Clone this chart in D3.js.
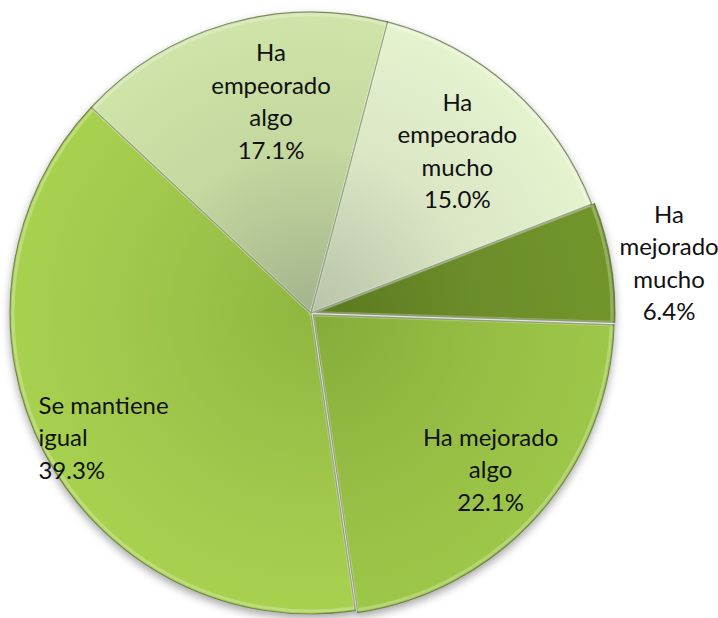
<!DOCTYPE html>
<html>
<head>
<meta charset="utf-8">
<script src="https://cdn.jsdelivr.net/npm/d3@7"></script>
<style>
  body { margin: 0; background: #fff; }
  text { font-family: Lato, "Open Sans", sans-serif; font-size: 24px; fill: #111; }
</style>
</head>
<body>
<svg id="svg"></svg>
<script>
var categories = ["Ha mejorado mucho", "Ha mejorado algo", "Se mantiene igual", "Ha empeorado algo", "Ha empeorado mucho"];
var values = [6.4, 22.1, 39.3, 17.1, 15.0];
var labelLines = [["Ha", "mejorado", "mucho", "6.4%"],
                  ["Ha mejorado", "algo", "22.1%"],
                  ["Se mantiene", "igual", "39.3%"],
                  ["Ha", "empeorado", "algo", "17.1%"],
                  ["Ha", "empeorado", "mucho", "15.0%"]];
var colors = ["#6c8d2a", "#95bd44", "#9fc64c", "#c4d89f", "#dae6c4"];
var darkColors = ["#5a7820", "#86ab3a", "#8fb63f", "#a3b38c", "#b8c3a8"];

var width = 718, height = 618;
var cx = 311, cy = 313, radius = 301;

var svg = d3.select("#svg")
    .attr("width", width)
    .attr("height", height);

var defs = svg.append("defs");

var shadow = defs.append("filter").attr("id", "shadow")
    .attr("x", "-10%").attr("y", "-10%").attr("width", "120%").attr("height", "125%");
shadow.append("feDropShadow")
    .attr("dx", 0).attr("dy", 4).attr("stdDeviation", 4)
    .attr("flood-color", "#000").attr("flood-opacity", 0.35);

colors.forEach(function(c, i) {
  var g = defs.append("radialGradient")
      .attr("id", "grad" + i)
      .attr("gradientUnits", "userSpaceOnUse")
      .attr("cx", 0).attr("cy", 0).attr("r", radius);
  g.append("stop").attr("offset", "0%").attr("stop-color", darkColors[i]);
  g.append("stop").attr("offset", "55%").attr("stop-color", c);
  g.append("stop").attr("offset", "100%").attr("stop-color", d3.color(c).brighter(0.15));
});

var start = 68.8 * Math.PI / 180;
var pie = d3.pie().sort(null)
    .startAngle(start)
    .endAngle(start + 2 * Math.PI)
    .value(function(d) { return d; });

var arcs = pie(values);

var arc = d3.arc().innerRadius(0).outerRadius(radius);
var bevel = d3.arc().innerRadius(0).outerRadius(radius - 3);

// a small pull-out for the two "mejorado" slices
var explode = [3, 3, 0, 0, 0];

var g = svg.append("g")
    .attr("transform", "translate(" + cx + "," + cy + ")")
    .attr("filter", "url(#shadow)");

var slice = g.selectAll("g.slice")
    .data(arcs)
    .enter().append("g")
      .attr("class", "slice")
      .attr("transform", function(d, i) {
        var a = (d.startAngle + d.endAngle) / 2;
        return "translate(" + (Math.sin(a) * explode[i]) + "," + (-Math.cos(a) * explode[i]) + ")";
      });

slice.append("path")
    .attr("d", arc)
    .attr("fill", function(d, i) { return "url(#grad" + i + ")"; })
    .attr("stroke", "#55663a")
    .attr("stroke-opacity", 0.7)
    .attr("stroke-width", 1.2);

slice.append("path")
    .attr("d", bevel)
    .attr("fill", "none")
    .attr("stroke", "#fff")
    .attr("stroke-opacity", 0.25)
    .attr("stroke-width", 3);

// label radius as fraction of the pie radius, plus a small nudge
var labelR = [1.2, 0.79, 0.73, 0.72, 0.72];
var nudge = [[2, 9], [2, -3], [3, 21], [20, -5], [2, -2]];
var lineH = 32.5;

var labels = svg.append("g")
    .attr("transform", "translate(" + cx + "," + cy + ")");

arcs.forEach(function(d, i) {
  var a = (d.startAngle + d.endAngle) / 2;
  var r = radius * labelR[i];
  var x = Math.sin(a) * r + nudge[i][0], y = -Math.cos(a) * r + nudge[i][1];
  var lines = labelLines[i];
  var left = categories[i] == "Se mantiene igual";
  var t = labels.append("text")
      .attr("text-anchor", left ? "start" : "middle")
      .attr("dominant-baseline", "central");
  var x0 = left ? x - 81 : x;
  lines.forEach(function(l, j) {
    t.append("tspan")
        .attr("x", x0)
        .attr("y", y + (j - (lines.length - 1) / 2) * lineH)
        .text(l);
  });
});
</script>
</body>
</html>
